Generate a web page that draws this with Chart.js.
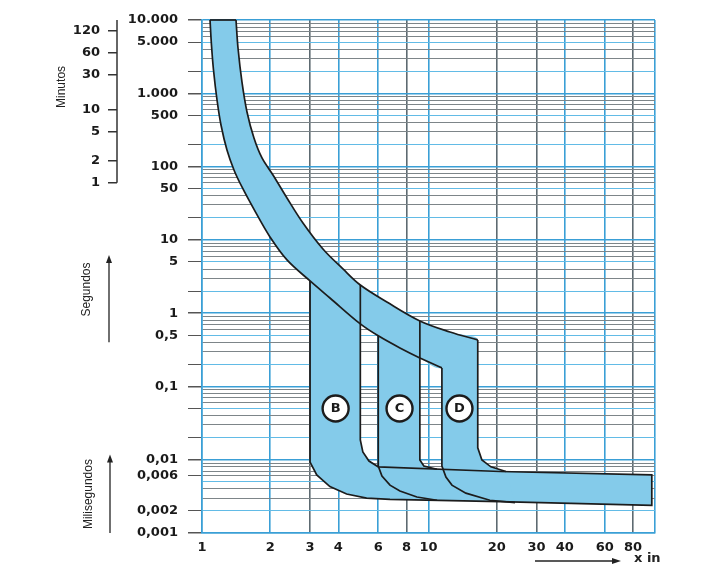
<!DOCTYPE html>
<html>
<head>
<meta charset="utf-8">
<title>Curvas de disparo B C D</title>
<script src="https://cdn.jsdelivr.net/npm/chart.js@4.4.1/dist/chart.umd.min.js"></script>
<style>
    html, body { margin: 0; padding: 0; background: #fff; }
    #wrap { width: 719px; height: 568px; position: relative; }
</style>
</head>
<body>
<div id="wrap"><canvas id="curves"></canvas></div>
<script>
// ejes: x = multiplo de In, t = tiempo en segundos
const xTicks = [1, 2, 3, 4, 6, 8, 10, 20, 30, 40, 60, 80, 100];
const xLabels = ['1', '2', '3', '4', '6', '8', '10', '20', '30', '40', '60', '80', ''];
const xBlue = [1, 2, 4, 6, 10, 40, 60, 100];
const secTicks = [10000, 5000, 1000, 500, 100, 50, 10, 5, 1, 0.5, 0.1, 0.01, 0.006, 0.002, 0.001];
const secLabels = ['10.000', '5.000', '1.000', '500', '100', '50', '10', '5', '1', '0,5', '0,1', '0,01', '0,006', '0,002', '0,001'];
const secMarks = [10000, 5000, 2000, 1000, 500, 200, 100, 50, 20, 10, 5, 2, 1, 0.5, 0.2, 0.1, 0.05, 0.02, 0.01, 0.006, 0.002, 0.001];
const minTicks = [120, 60, 30, 10, 5, 2, 1];
const minLabels = ['120', '60', '30', '10', '5', '2', '1'];

// zona termica (comun a B, C y D)
const thermalLow = [[1.085, 10000], [1.101, 4560], [1.124, 2080], [1.165, 810], [1.213, 369], [1.289, 168],
    [1.384, 89.9], [1.501, 52.7], [1.731, 23.3], [1.996, 10.95], [2.372, 5.32], [3.0, 2.75], [3.672, 1.61],
    [5.0, 0.713], [6.0, 0.49], [7.48, 0.335], [9.16, 0.245], [11.46, 0.179]];
const thermalHigh = [[1.413, 10000], [1.442, 4150], [1.501, 1427], [1.580, 556], [1.696, 245], [1.840, 131],
    [2.058, 76.8], [2.372, 37.3], [2.791, 17.0], [3.420, 7.51], [4.191, 4.01], [5.0, 2.42], [6.55, 1.42],
    [9.16, 0.783], [12.43, 0.554], [16.5, 0.431]];
const thermalTop = [[1.085, 10000], [1.413, 10000]];

// zonas magneticas
const bLeft = [[3.0, 2.75], [3.0, 0.0093], [3.21, 0.0062], [3.67, 0.0043], [4.35, 0.0034], [5.33, 0.0030], [6.76, 0.00287]];
const bRight = [[5.0, 2.42], [5.0, 0.0186], [5.13, 0.0128], [5.46, 0.0096], [6.0, 0.0080]];
const cLeft = [[6.0, 0.49], [6.0, 0.0082], [6.23, 0.0060], [6.76, 0.0045], [7.48, 0.00375], [8.89, 0.0031], [10.9, 0.0028]];
const cRight = [[9.16, 0.783], [9.16, 0.0099], [9.54, 0.0082], [10.9, 0.0074]];
const dLeft = [[11.46, 0.179], [11.46, 0.0082], [11.94, 0.0058], [12.69, 0.0045], [14.62, 0.0035], [18.66, 0.0028], [24.1, 0.0026]];
const dRight = [[16.5, 0.431], [16.5, 0.0145], [17.21, 0.0099], [18.86, 0.0080], [21.96, 0.0069]];
const bandTop = [[6.0, 0.0080], [20.7, 0.0069], [96.8, 0.0062]];
const bandBottom = [[6.76, 0.00287], [20.7, 0.00268], [96.8, 0.00238]];

const zoneNames = ['B', 'C', 'D'];
const zoneX = [3.89, 7.45, 13.7];
const zoneY = [0.05, 0.05, 0.05];

const fillColor = '#84cbea';
const lineColor = '#1c1c1c';
const blue = '#3a9fd6';
const gray = '#7d8589';
const curveTension = 0.35;

const pts = a => a.map(p => ({x: p[0], y: p[1]}));
const rev = a => a.slice().reverse();
const same = (a, b) => Math.abs(Math.log10(a) - Math.log10(b)) < 1e-6;

// lineas de la cuadricula horizontal: 1..9 por decada
const yGrid = [];
for (let e = -3; e <= 3; e++) {
    for (let m = 1; m <= 9; m++) {
        yGrid.push(Number((m * Math.pow(10, e)).toPrecision(6)));
    }
}
yGrid.push(10000);

function area(points, tension) {
    return {
        data: pts(points), fill: 'shape', backgroundColor: fillColor,
        borderColor: 'rgba(0,0,0,0)', borderWidth: 1, pointRadius: 0,
        tension: tension || 0
    };
}

function edge(points, tension) {
    return {
        data: pts(points), fill: false, borderColor: lineColor,
        borderWidth: 1.7, pointRadius: 0, clip: false,
        tension: tension || 0
    };
}

const circles = {
    data: zoneX.map((x, i) => ({x: x, y: zoneY[i]})),
    showLine: false, pointRadius: 13, pointStyle: 'circle',
    pointBackgroundColor: '#ffffff', pointBorderColor: lineColor, pointBorderWidth: 2.4
};

const datasets = [
    circles,
    edge(thermalHigh, curveTension),
    edge(thermalLow, curveTension),
    edge(thermalTop),
    edge(bLeft.concat(bandBottom.slice(1), rev(bandTop), rev(bRight).slice(1))),
    edge(cLeft),
    edge(cRight),
    edge(dLeft),
    edge(dRight),
    area(thermalLow.concat(rev(thermalHigh)), curveTension),
    area(bLeft.concat(rev(bRight))),
    area(cLeft.concat(rev(cRight))),
    // se cierra por dentro de la zona termica para no dejar costura
    area(dLeft.concat(rev(dRight), [thermalHigh[14]])),
    area(bandTop.concat(rev(bandBottom), [bLeft[5]]))
];

function mantissa(v) {
    return Math.round(v / Math.pow(10, Math.floor(Math.log10(v) + 1e-9)));
}

function vText(ctx, text, x, y) {
    ctx.save();
    ctx.translate(x, y);
    ctx.rotate(-Math.PI / 2);
    ctx.fillText(text, 0, 0);
    ctx.restore();
}

function arrowUp(ctx, x, yTail, yTip) {
    ctx.beginPath();
    ctx.moveTo(x, yTail);
    ctx.lineTo(x, yTip + 6);
    ctx.stroke();
    ctx.beginPath();
    ctx.moveTo(x, yTip);
    ctx.lineTo(x - 3, yTip + 8);
    ctx.lineTo(x + 3, yTip + 8);
    ctx.closePath();
    ctx.fill();
}

const decor = {
    id: 'decor',
    afterDatasetsDraw(chart) {
        const {ctx, chartArea, scales} = chart;
        const y = scales.y;
        const ym = scales.yMin;
        ctx.save();

        // letras de las zonas
        const meta = chart.getDatasetMeta(0);
        ctx.font = 'bold 13px "DejaVu Sans"';
        ctx.fillStyle = '#1a1a1a';
        ctx.textAlign = 'center';
        ctx.textBaseline = 'middle';
        meta.data.forEach((el, i) => ctx.fillText(zoneNames[i], el.x, el.y + 0.5));

        // corchete de minutos
        ctx.strokeStyle = '#333';
        ctx.lineWidth = 1.5;
        ctx.beginPath();
        ctx.moveTo(ym.right, chartArea.top);
        ctx.lineTo(ym.right, ym.getPixelForValue(1));
        ctx.stroke();

        // titulos verticales
        ctx.font = '12px "Liberation Sans"';
        ctx.fillStyle = '#222';
        vText(ctx, 'Minutos', 62, y.getPixelForValue(1220));
        vText(ctx, 'Segundos', 87, y.getPixelForValue(2.1));
        vText(ctx, 'Milisegundos', 89, y.getPixelForValue(0.0034));

        ctx.strokeStyle = '#222';
        ctx.fillStyle = '#222';
        ctx.lineWidth = 1.3;
        arrowUp(ctx, 109, y.getPixelForValue(0.4), y.getPixelForValue(6.2));
        arrowUp(ctx, 110, y.getPixelForValue(0.001), y.getPixelForValue(0.0118));

        // x in
        const ay = 561;
        ctx.beginPath();
        ctx.moveTo(535, ay);
        ctx.lineTo(614, ay);
        ctx.stroke();
        ctx.beginPath();
        ctx.moveTo(621, ay);
        ctx.lineTo(612, ay - 3);
        ctx.lineTo(612, ay + 3);
        ctx.closePath();
        ctx.fill();
        ctx.font = 'bold 13px "DejaVu Sans"';
        ctx.textAlign = 'left';
        ctx.fillText('x in', 634, 559);
        ctx.restore();
    }
};

new Chart(document.getElementById('curves'), {
    type: 'line',
    data: {datasets: datasets},
    options: {
        responsive: true,
        maintainAspectRatio: false,
        animation: false,
        events: [],
        layout: {padding: {top: 20, right: 64, bottom: 0, left: 0}},
        plugins: {
            legend: {display: false},
            tooltip: {enabled: false},
            filler: {drawTime: 'beforeDatasetsDraw', propagate: false}
        },
        scales: {
            x: {
                type: 'logarithmic',
                position: 'bottom',
                min: 1,
                max: 100,
                afterBuildTicks: s => { s.ticks = xTicks.map(v => ({value: v})); },
                afterFit: s => { s.height = 35; },
                ticks: {
                    autoSkip: false,
                    maxRotation: 0,
                    padding: 7,
                    color: '#1a1a1a',
                    font: {family: 'DejaVu Sans', size: 13, weight: 'bold'},
                    callback: (v) => {
                        const i = xTicks.findIndex(t => same(t, v));
                        return i < 0 ? '' : xLabels[i];
                    }
                },
                grid: {
                    drawTicks: false,
                    lineWidth: 1.6,
                    color: c => (c.tick && xBlue.some(t => same(t, c.tick.value))) ? blue : '#5d6a71'
                },
                border: {display: true, color: blue, width: 1.5}
            },
            y: {
                type: 'logarithmic',
                position: 'left',
                weight: 0,
                min: 0.001,
                max: 10000,
                afterBuildTicks: s => { s.ticks = yGrid.map(v => ({value: v})); },
                afterFit: s => { s.width = 85; },
                ticks: {
                    autoSkip: false,
                    padding: 10,
                    color: '#1a1a1a',
                    font: {family: 'DejaVu Sans', size: 13, weight: 'bold'},
                    callback: (v) => {
                        const i = secTicks.findIndex(t => same(t, v));
                        return i < 0 ? '' : secLabels[i];
                    }
                },
                grid: {
                    tickLength: 14,
                    lineWidth: c => (c.tick && mantissa(c.tick.value) === 1) ? 1.5 : 1,
                    color: c => {
                        if (!c.tick) return gray;
                        const m = mantissa(c.tick.value);
                        if (m === 1) return blue;
                        if (m === 2 || m === 5) return '#62bbe6';
                        return gray;
                    },
                    tickColor: c => (c.tick && secMarks.some(t => same(t, c.tick.value))) ? '#555' : 'rgba(0,0,0,0)'
                },
                border: {display: true, color: blue, width: 1.5}
            },
            yMin: {
                type: 'logarithmic',
                position: 'left',
                weight: 1,
                min: 0.001 / 60,
                max: 10000 / 60,
                afterBuildTicks: s => { s.ticks = minTicks.map(v => ({value: v})); },
                afterFit: s => { s.width = 117; },
                ticks: {
                    autoSkip: false,
                    padding: 8,
                    color: '#1a1a1a',
                    font: {family: 'DejaVu Sans', size: 13, weight: 'bold'},
                    callback: (v) => {
                        const i = minTicks.findIndex(t => same(t, v));
                        return i < 0 ? '' : minLabels[i];
                    }
                },
                grid: {
                    drawOnChartArea: false,
                    tickLength: 9,
                    lineWidth: 1.5,
                    tickColor: '#333'
                },
                border: {display: false}
            }
        }
    },
    plugins: [decor]
});
</script>
</body>
</html>
